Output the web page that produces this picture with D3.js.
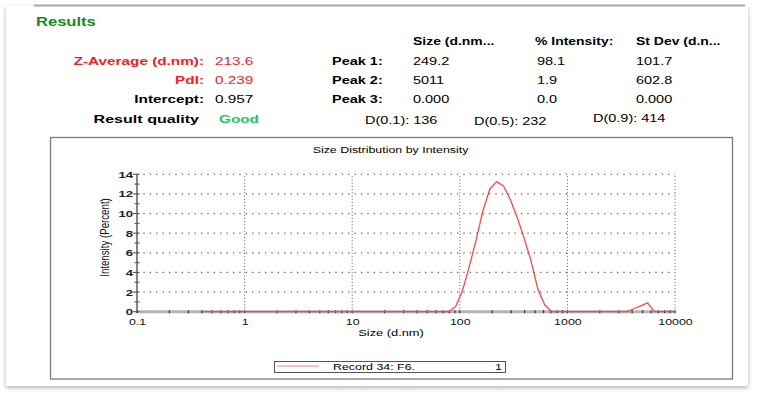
<!DOCTYPE html>
<html>
<head>
<meta charset="utf-8">
<script src="https://cdn.jsdelivr.net/npm/d3@7/dist/d3.min.js"></script>
<style>
  html, body { margin: 0; padding: 0; background: #fff; }
  svg { display: block; font-family: "Liberation Sans", Arial, Helvetica, sans-serif; }
</style>
</head>
<body>
<div id="chart"></div>
<script>
// size classes (d.nm) and intensity (%)
var sizes = [0.4, 0.4632, 0.5365, 0.6213, 0.7195, 0.8332, 0.9649, 1.117, 1.294, 1.499,
  1.736, 2.010, 2.328, 2.696, 3.122, 3.615, 4.187, 4.849, 5.615, 6.503,
  7.531, 8.721, 10.10, 11.70, 13.54, 15.69, 18.17, 21.04, 24.36, 28.21,
  32.67, 37.84, 43.82, 50.75, 58.77, 68.06, 78.82, 91.28, 105.7, 122.4,
  141.8, 164.2, 190.1, 220.2, 255.0, 295.3, 342.0, 396.1, 458.7, 531.2,
  615.1, 712.4, 825.0, 955.4, 1106, 1281, 1484, 1718, 1990, 2305,
  2669, 3091, 3580, 4145, 4801, 5560, 6439, 7456, 8635, 10000];
var intensity = [0, 0, 0, 0, 0, 0, 0, 0, 0, 0,
  0, 0, 0, 0, 0, 0, 0, 0, 0, 0,
  0, 0, 0, 0, 0, 0, 0, 0, 0, 0,
  0, 0, 0, 0, 0, 0, 0, 0.5, 2.1, 4.6,
  7.3, 10.3, 12.5, 13.25, 12.8, 11.4, 9.6, 7.5, 5.2, 2.3,
  0.7, 0, 0, 0, 0, 0, 0, 0, 0, 0,
  0, 0, 0, 0.3, 0.6, 0.9, 0, 0, 0, 0];

var xTickLabels = ["0.1", "1", "10", "100", "1000", "10000"];
var yTickLabels = [0, 2, 4, 6, 8, 10, 12, 14];

var summaryLabels = ["Z-Average (d.nm):", "PdI:", "Intercept:"];
var summaryValues = ["213.6", "0.239", "0.957"];
var summaryColors = ["#ff1a1a", "#ff1a1a", "#000"];

var peakLabels = ["Peak 1:", "Peak 2:", "Peak 3:"];
var peakHeaders = ["Size (d.nm...", "% Intensity:", "St Dev (d.n..."];
var peakSize = ["249.2", "5011", "0.000"];
var peakIntensity = ["98.1", "1.9", "0.0"];
var peakStDev = ["101.7", "602.8", "0.000"];
var dLabels = ["D(0.1): 136", "D(0.5): 232", "D(0.9): 414"];

var W = 757, H = 395;
var SX = 1.38; // the picture is stretched sideways

var svg = d3.select("#chart").append("svg")
    .attr("width", W).attr("height", H);

var defs = svg.append("defs");
var f = defs.append("filter").attr("id", "shadow")
    .attr("x", "-5%").attr("y", "-5%").attr("width", "110%").attr("height", "112%");
f.append("feDropShadow").attr("dx", 0).attr("dy", 2).attr("stdDeviation", 2)
    .attr("flood-color", "#000").attr("flood-opacity", 0.3);

// card
svg.append("rect").attr("x", 6).attr("y", 6).attr("width", 742).attr("height", 380)
    .attr("fill", "#fff").attr("filter", "url(#shadow)");
svg.append("line").attr("x1", 34).attr("x2", 745).attr("y1", 5.5).attr("y2", 5.5)
    .attr("stroke", "#a8a8a8").attr("stroke-width", 2);

function txt(g, s, x, y, o) {
  o = o || {};
  return g.append("text")
      .attr("transform", "translate(" + x + "," + y + ") scale(" + (o.sx || SX) + ",1)")
      .attr("text-anchor", o.anchor || "start")
      .attr("font-size", o.size || 10.5)
      .attr("font-weight", o.bold ? "bold" : "normal")
      .attr("fill", o.color || "#000")
      .text(s);
}

var head = svg.append("g");
txt(head, "Results", 36, 26, {bold: true, size: 12, color: "#168a16"});

var rowY = [65, 84, 103];
summaryLabels.forEach(function (d, i) {
  txt(head, d, 204, rowY[i], {bold: true, anchor: "end", color: summaryColors[i], size: 11.1});
  txt(head, summaryValues[i], 215, rowY[i], {color: summaryColors[i], size: 11.1});
});
txt(head, "Result quality", 199, 123, {bold: true, anchor: "end", size: 11.1, sx: 1.45});
txt(head, "Good", 219, 123, {bold: true, color: "#22c760", size: 11.1});

var colX = [413, 535, 636];
peakHeaders.forEach(function (d, i) {
  txt(head, d, colX[i], 45, {bold: true, sx: 1.33});
});
peakLabels.forEach(function (d, i) {
  txt(head, d, 332, rowY[i], {bold: true});
  txt(head, peakSize[i], colX[0], rowY[i]);
  txt(head, peakIntensity[i], colX[1] + 2, rowY[i]);
  txt(head, peakStDev[i], colX[2], rowY[i]);
});
var dX = [365, 474, 593], dY = [124, 125, 121.5];
dLabels.forEach(function (d, i) {
  txt(head, d, dX[i], dY[i]);
});

// chart frame
svg.append("rect").attr("x", 50.5).attr("y", 137.5).attr("width", 682).attr("height", 241.5)
    .attr("fill", "#fff").attr("stroke", "#7a7a7a").attr("stroke-width", 1.3);

txt(svg, "Size Distribution by Intensity", 390.5, 153, {anchor: "middle", size: 9});

var x = d3.scaleLog().domain([0.1, 10000]).range([137, 675]);
var y = d3.scaleLinear().domain([0, 14]).range([311.7, 174.3]);

var grid = svg.append("g").attr("stroke", "#555").attr("fill", "none");
grid.selectAll(".hg").data(yTickLabels.slice(1)).enter().append("line")
    .attr("x1", x(0.1)).attr("x2", x(10000))
    .attr("y1", function (d) { return y(d); }).attr("y2", function (d) { return y(d); })
    .attr("stroke-width", 1.2).attr("stroke-dasharray", "1.2,5.2");
grid.selectAll(".vg").data(xTickLabels.slice(1).map(Number)).enter().append("line")
    .attr("x1", function (d) { return x(d); }).attr("x2", function (d) { return x(d); })
    .attr("y1", y(0)).attr("y2", y(14))
    .attr("stroke-width", 1).attr("stroke-dasharray", "1,2.2");

// x axis: thick grey line with small dark ticks
svg.append("line").attr("x1", x(0.1)).attr("x2", x(10000)).attr("y1", y(0)).attr("y2", y(0))
    .attr("stroke", "#b4b4b4").attr("stroke-width", 3);
svg.append("g").selectAll("line").data(x.ticks()).enter().append("line")
    .attr("x1", function (d) { return x(d); }).attr("x2", function (d) { return x(d); })
    .attr("y1", y(0) - 1.5).attr("y2", y(0) + 1.5)
    .attr("stroke", "#333").attr("stroke-width", 1.2);

var xAxis = svg.append("g").attr("transform", "translate(0," + y(0) + ")")
    .call(d3.axisBottom(x).tickValues(xTickLabels.map(Number))
      .tickFormat(function (d, i) { return xTickLabels[i]; }).tickSize(0).tickPadding(7));
xAxis.select(".domain").remove();
xAxis.selectAll("text").attr("font-size", 9).attr("fill", "#111")
    .attr("font-family", null).attr("transform", "scale(" + SX + ",1)");

// y axis
svg.append("line").attr("x1", x(0.1)).attr("x2", x(0.1)).attr("y1", y(0) + 1).attr("y2", y(14))
    .attr("stroke", "#555").attr("stroke-width", 1.4);
svg.append("g").selectAll("line").data(y.ticks(14)).enter().append("line")
    .attr("x1", function (d) { return x(0.1) - (d % 2 === 0 ? 4 : 2.5); })
    .attr("x2", x(0.1) + 2.5)
    .attr("y1", function (d) { return y(d); }).attr("y2", function (d) { return y(d); })
    .attr("stroke", "#555").attr("stroke-width", 1.1);

var yAxis = svg.append("g").attr("transform", "translate(" + x(0.1) + ",0)")
    .call(d3.axisLeft(y).tickValues(yTickLabels).tickSize(0).tickPadding(0));
yAxis.select(".domain").remove();
yAxis.selectAll("text").attr("font-size", 9.5).attr("font-weight", "bold").attr("fill", "#222")
    .attr("font-family", null).attr("x", -4 / SX).attr("transform", "scale(" + SX + ",1)");

svg.append("text")
    .attr("transform", "translate(109,237.5) scale(" + SX + ",1) rotate(-90)")
    .attr("text-anchor", "middle").attr("font-size", 9.7).attr("fill", "#111")
    .text("Intensity (Percent)");

txt(svg, "Size (d.nm)", 391, 336, {anchor: "middle", size: 9.3});

// distribution curve
var line = d3.line()
    .x(function (d, i) { return x(sizes[i]); })
    .y(function (d) { return y(d); });
svg.append("path").datum(intensity)
    .attr("d", line)
    .attr("fill", "none").attr("stroke", "#ff4545").attr("stroke-width", 1.3)
    .attr("stroke-linejoin", "round");

// legend
var lg = svg.append("g");
lg.append("rect").attr("x", 274.5).attr("y", 361.5).attr("width", 231).attr("height", 11)
    .attr("fill", "#fff").attr("stroke", "#555").attr("stroke-width", 1);
lg.append("line").attr("x1", 277).attr("x2", 319).attr("y1", 366).attr("y2", 366)
    .attr("stroke", "#ffaaaa").attr("stroke-width", 1.5);
txt(lg, "Record 34: F6.", 333, 370, {size: 9});
txt(lg, "1", 502, 370, {size: 9, anchor: "end"});
</script>
</body>
</html>
